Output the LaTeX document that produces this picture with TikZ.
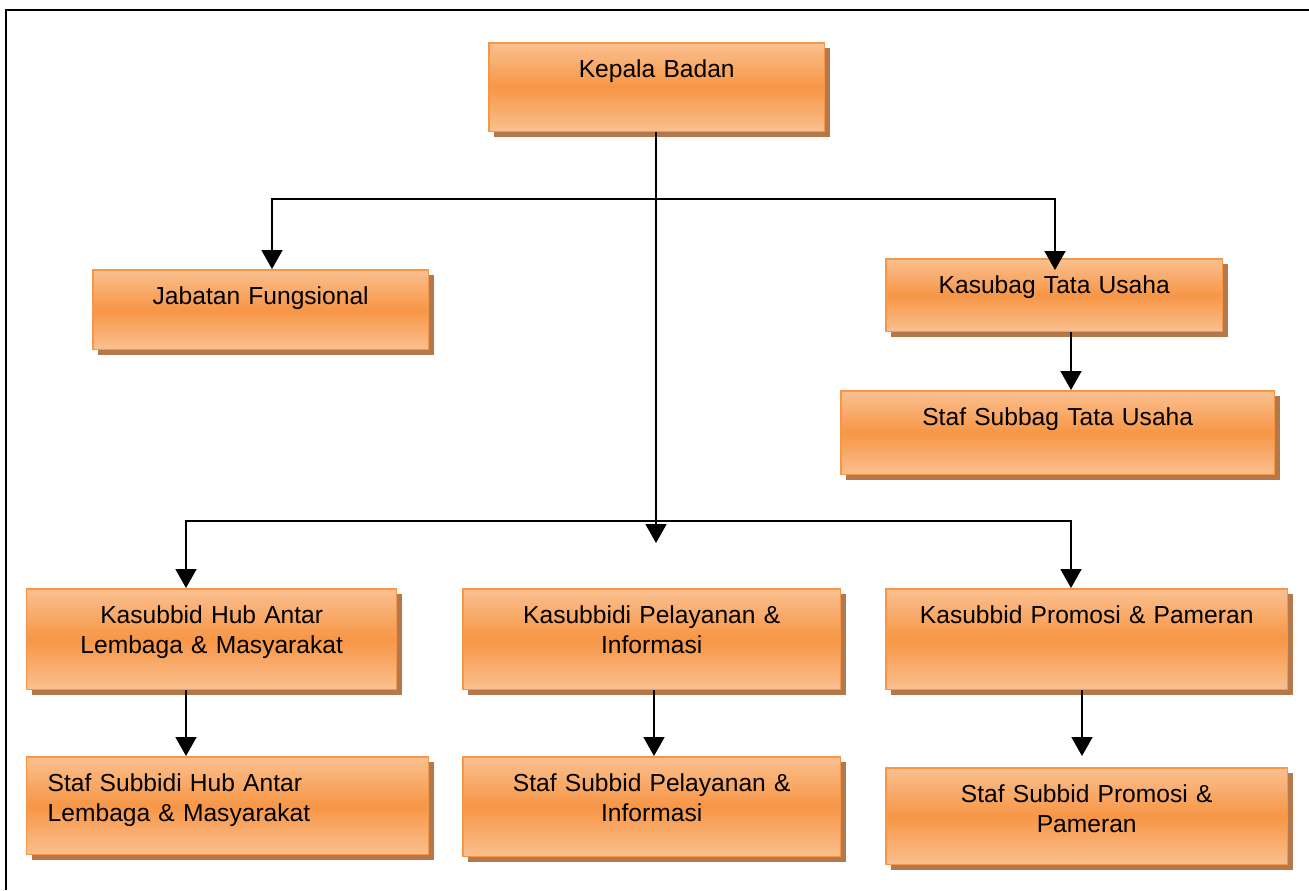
\documentclass[tikz,border=0pt]{standalone}
\usepackage{fontspec}
\setmainfont{Liberation Sans}
\usepackage{xcolor}
\usetikzlibrary{arrows.meta,shadows,calc,positioning}

\definecolor{orangeL}{HTML}{FAC090}
\definecolor{orangeD}{HTML}{F79646}
\definecolor{shadowC}{HTML}{B5784A}

\tikzset{
  box/.style={rectangle, draw=orangeD, line width=0.03cm, anchor=north west,
    top color=orangeL, bottom color=orangeL, middle color=orangeD,
    drop shadow={fill=shadowC, opacity=1, shadow xshift=0.1cm, shadow yshift=-0.1cm},
    align=center, inner xsep=0.08cm, inner ysep=0pt, text height=0.7cm,
    font=\fontsize{14}{17}\selectfont},
  arr/.style={-{Triangle[width=0.42cm,length=0.38cm]}, line width=1.05pt}
}

\begin{document}
\begin{tikzpicture}[x=0.02cm,y=-0.02cm]
    \useasboundingbox (0,0) rectangle (1309,890);
    \draw [line width=1.3pt] (6,890) |- (1309,10);

    % boxes
    \node [box, text width=6.56cm, text depth=1.08cm] (kb) at (488,42) {Kepala Badan};
    \node [box, text width=6.56cm, text depth=0.9cm] (jf) at (92,269) {Jabatan Fungsional};
    \node [box, text width=6.58cm, text depth=0.76cm] (ktu) at (885,258) {Kasubag Tata Usaha};
    \node [box, text width=8.52cm, text depth=0.98cm] (sst) at (840,390) {Staf Subbag Tata Usaha};

    \node [box, text width=7.24cm, text depth=1.32cm] (khub) at (26,588) {Kasubbid Hub Antar\\Lembaga \& Masyarakat};
    \node [box, text width=7.4cm, text depth=1.32cm] (kpel) at (462,588) {Kasubbidi Pelayanan \&\\Informasi};
    \node [box, text width=7.88cm, text depth=1.32cm] (kpro) at (885,588) {Kasubbid Promosi \& Pameran};

    \node [box, align=left, inner xsep=0.42cm, text width=7.2cm, text depth=1.26cm] (shub) at (26,756) {Staf Subbidi Hub Antar\\Lembaga \& Masyarakat};
    \node [box, text width=7.4cm, text depth=1.3cm] (spel) at (462,756) {Staf Subbid Pelayanan \&\\Informasi};
    \node [box, text width=7.88cm, text depth=1.24cm] (spro) at (885,767) {Staf Subbid Promosi \&\\Pameran};

    % connectors
    \coordinate (s1) at (656,199);
    \coordinate (s2) at (656,521);
    \coordinate (mid) at (656,543);
    \coordinate (colA) at (186,0);
    \coordinate (colB) at (272,0);
    \coordinate (colC) at (654,0);
    \coordinate (colD) at (1071,0);
    \coordinate (tu) at (1055,270);
    \coordinate (pe) at (1082,756);

    \draw [arr] (kb.south -| mid) -- (mid);
    \draw [arr] (s1) -| (jf.north -| colB);
    \draw [arr] (s1) -| (tu);
    \draw [arr] (ktu.south -| colD) -- (sst.north -| colD);

    \draw [arr] (s2) -| (khub.north -| colA);
    \draw [arr] (s2) -| (kpro.north -| colD);

    \draw [arr] (khub.south -| colA) -- (shub.north -| colA);
    \draw [arr] (kpel.south -| colC) -- (spel.north -| colC);
    \draw [arr] (kpro.south -| pe) -- (pe);
\end{tikzpicture}
\end{document}
